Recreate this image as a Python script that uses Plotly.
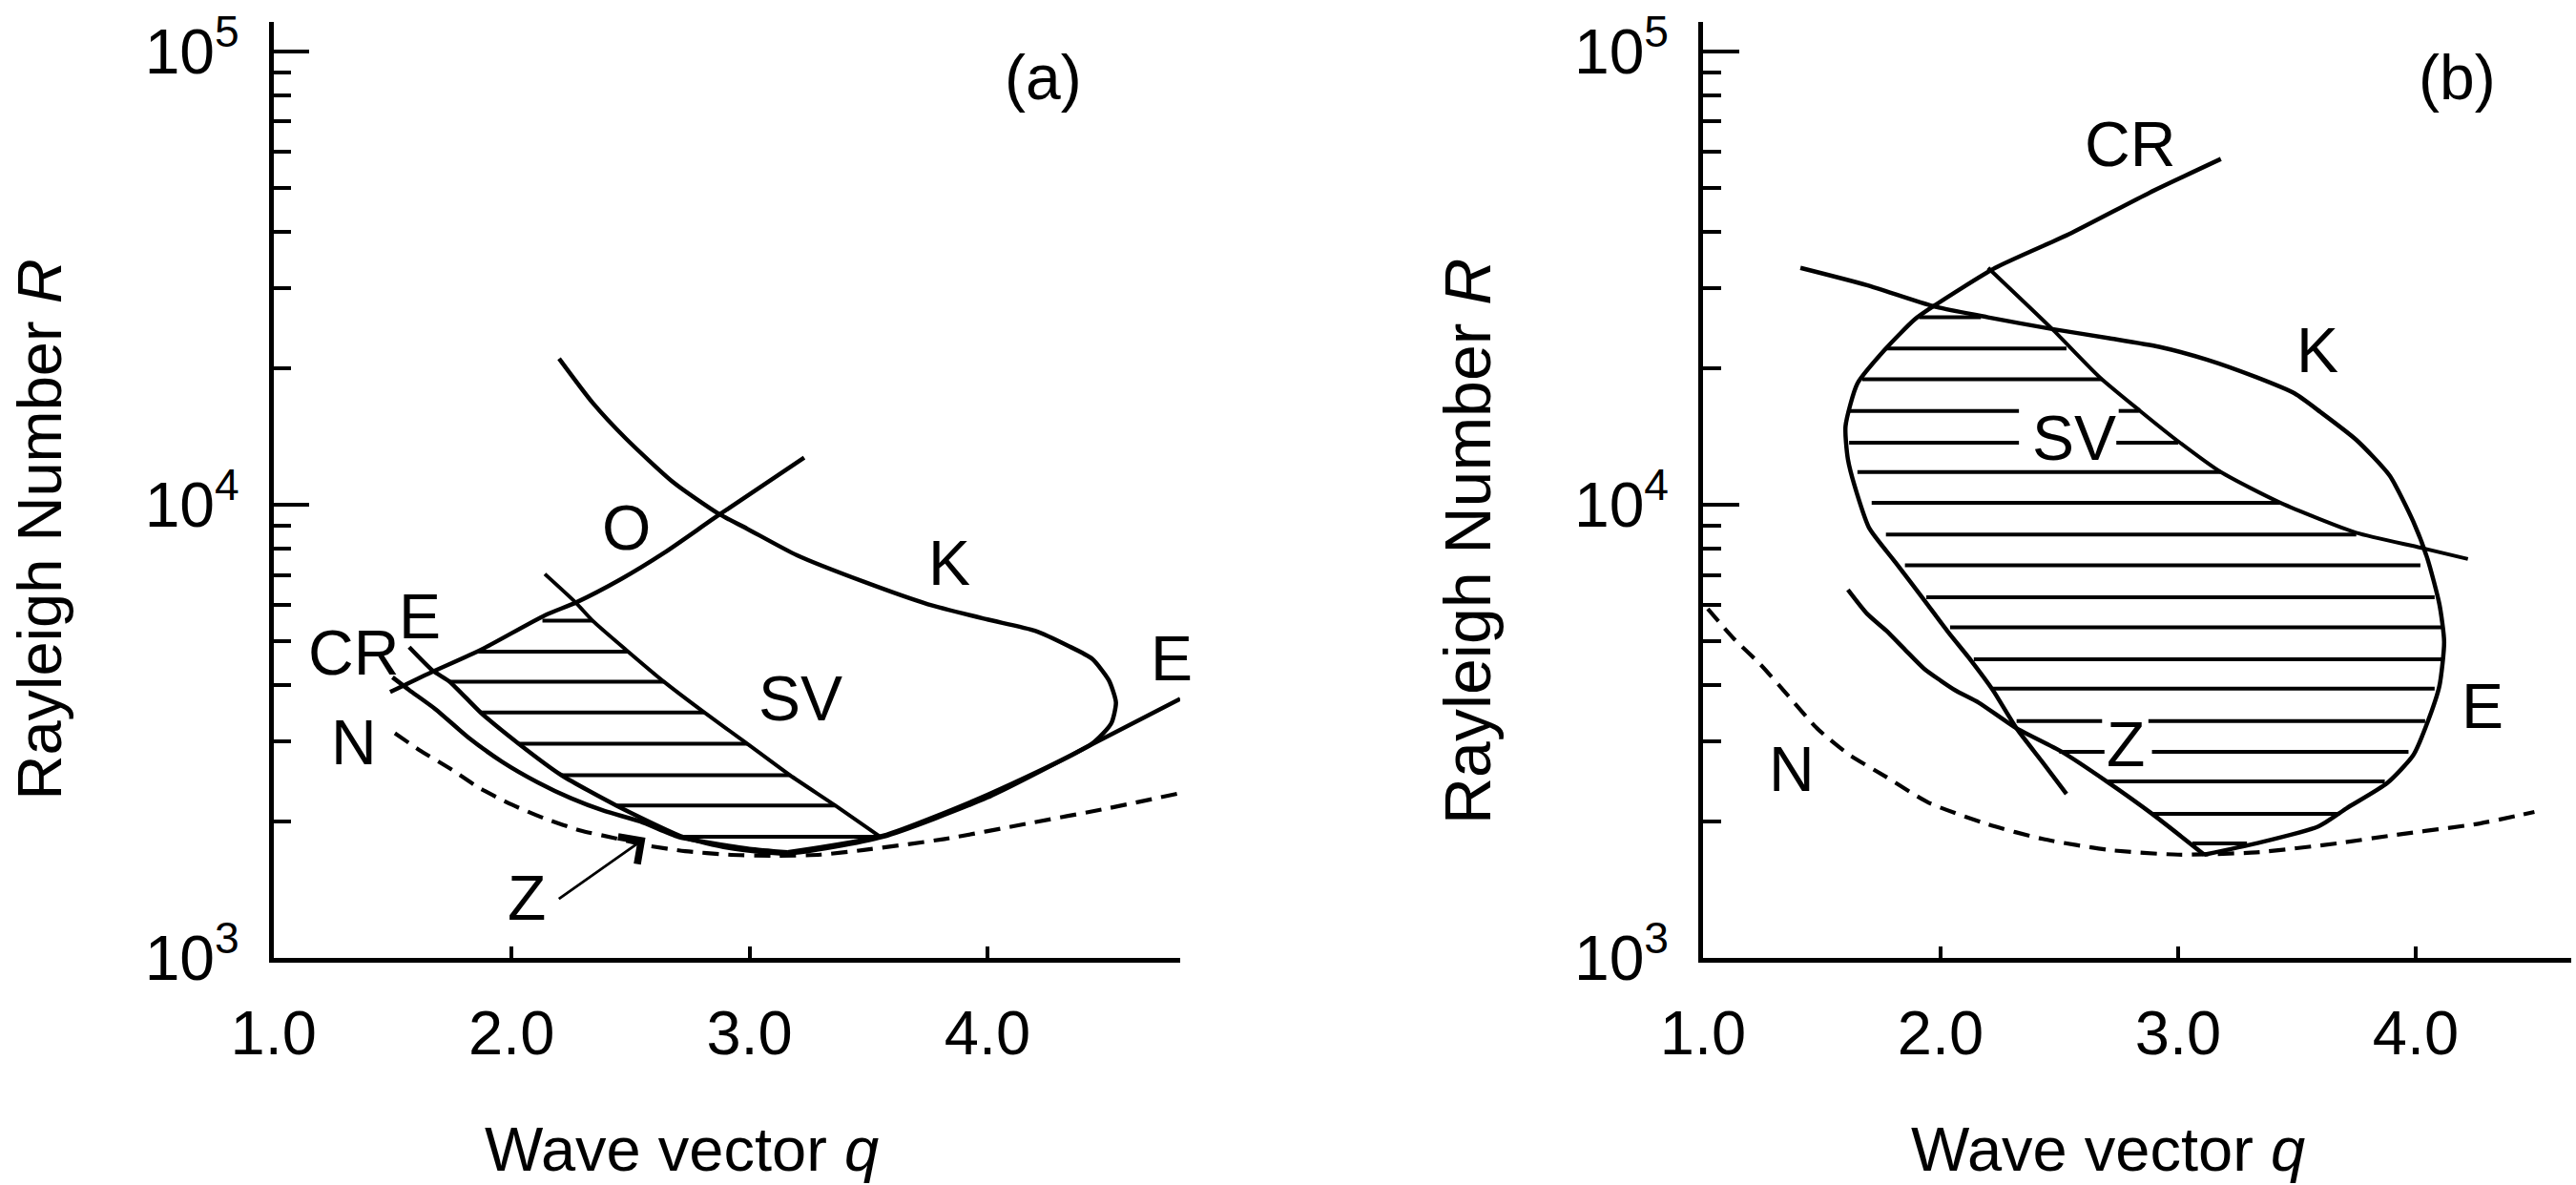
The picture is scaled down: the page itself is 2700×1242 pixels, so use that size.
import plotly.graph_objects as go

FONT = "Liberation Sans, Arial, Helvetica, sans-serif"

# ---------------- panel (a) data ----------------
a_N_q = [1.51, 1.62, 1.75, 1.86, 2.00, 2.14, 2.29, 2.43, 2.57, 2.73, 2.91, 3.10, 3.30, 3.48, 3.82, 4.17, 4.51, 4.81]
a_N_R = [3130, 2860, 2600, 2380, 2180, 2030, 1910, 1840, 1770, 1720, 1690, 1680, 1690, 1730, 1830, 1980, 2140, 2310]

a_CR_q = [1.50, 1.57, 1.68, 1.82, 1.96, 2.11, 2.25, 2.39, 2.54, 2.70, 2.82, 3.00, 3.16]
a_CR_R = [4160, 3900, 3540, 3060, 2710, 2440, 2250, 2110, 2000, 1850, 1800, 1740, 1710]

a_E_q = [1.57, 1.67, 1.74, 1.87, 2.03, 2.21, 2.44, 2.72, 2.91, 3.16, 3.56, 4.00, 4.44, 4.81]
a_E_R = [4850, 4300, 4070, 3480, 2970, 2530, 2170, 1850, 1750, 1700, 1850, 2260, 2960, 3730]

a_SV_q = [2.14, 2.27, 2.34, 2.49, 2.64, 2.81, 2.99, 3.17, 3.36, 3.55]
a_SV_R = [7030, 6080, 5550, 4740, 4070, 3480, 2970, 2530, 2170, 1850]

a_O_q = [1.49, 1.66, 1.87, 2.14, 2.27, 2.46, 2.64, 2.87, 3.23]
a_O_R = [3860, 4260, 4780, 5700, 6080, 6850, 7820, 9480, 12700]

a_K_q = [2.20, 2.34, 2.48, 2.68, 2.87, 2.99, 3.20, 3.48, 3.75, 4.00, 4.20, 4.34, 4.44,
         4.51, 4.54, 4.52, 4.44, 4.00, 3.56, 3.16]
a_K_R = [21000, 16800, 14000, 11200, 9550, 8850, 7730, 6760, 6030, 5580, 5270, 4880, 4570,
         4100, 3660, 3290, 2970, 2290, 1860, 1710]

a_hatch_R = [5550, 4740, 4070, 3480, 2970, 2530, 2170, 1850]
a_hatch_q0 = [2.13, 1.86, 1.74, 1.87, 2.03, 2.21, 2.44, 2.72]
a_hatch_q1 = [2.34, 2.49, 2.64, 2.81, 2.99, 3.17, 3.36, 3.55]

# ---------------- panel (b) data ----------------
b_N_q = [1.02, 1.13, 1.24, 1.36, 1.48, 1.61, 1.77, 1.95, 2.20, 2.43, 2.71, 3.00, 3.33, 3.67, 3.92, 4.27, 4.50]
b_N_R = [5890, 5060, 4450, 3780, 3210, 2820, 2510, 2200, 1970, 1830, 1730, 1690, 1710, 1790, 1870, 1980, 2100]

b_K_q = [1.41, 1.69, 1.97, 2.20, 2.47, 2.71, 2.92, 3.12, 3.33, 3.49, 3.60, 3.75, 3.89, 3.99,
         4.05, 4.10, 4.12, 4.10, 4.05, 3.99, 3.88, 3.71, 3.59, 3.33, 3.11]
b_K_R = [33300, 30500, 27400, 25900, 24400, 23300, 22300, 20900, 19100, 17600, 16000, 13900, 11600, 9180,
         7590, 6030, 4980, 3980, 3310, 2800, 2430, 2140, 1950, 1790, 1690]

b_CR_q = [3.18, 2.88, 2.54, 2.23, 1.97, 1.89, 1.77, 1.65, 1.60, 1.61, 1.65, 1.70, 1.81, 1.93,
          2.03, 2.13, 2.22, 2.32, 2.43, 2.53]
b_CR_R = [57900, 48800, 39500, 33300, 27400, 25600, 22100, 18500, 14900, 12600, 10500, 8870, 7460, 6170,
          5250, 4520, 3900, 3210, 2700, 2300]

b_Z_q = [1.61, 1.69, 1.77, 1.85, 1.93, 2.06, 2.16, 2.32, 2.51, 2.70, 2.89, 3.11]
b_Z_R = [6490, 5750, 5280, 4790, 4350, 3900, 3660, 3210, 2850, 2450, 2080, 1690]

b_SV_q = [2.20, 2.47, 2.67, 2.84, 3.00, 3.18, 3.43, 3.75, 4.02, 4.22]
b_SV_R = [33300, 24400, 19100, 16100, 13800, 11800, 10100, 8670, 8040, 7590]

b_hatch_R = [25900, 22100, 18900, 16100, 16100, 13700, 13700, 11800, 10100, 8590, 7350, 6250,
             5360, 4560, 3930, 3330, 3330, 2850, 2850, 2450, 2080, 1790]
b_hatch_q0 = [1.91, 1.77, 1.67, 1.615, 2.75, 1.615, 2.74, 1.65, 1.71, 1.77, 1.85, 1.94,
              2.04, 2.14, 2.22, 2.32, 2.875, 2.50, 2.89, 2.70, 2.89, 3.06]
b_hatch_q1 = [2.17, 2.53, 2.68, 2.33, 2.835, 2.33, 3.00, 3.18, 3.43, 3.75, 4.02, 4.08,
              4.11, 4.11, 4.08, 2.68, 4.04, 2.69, 3.97, 3.87, 3.68, 3.29]

# ---------------- figure ----------------
W, H = 2700, 1242
fig = go.Figure()


def line(q, R, xa, ya, width=4.5, dash="solid", shape="spline"):
    fig.add_trace(go.Scatter(
        x=q, y=R, mode="lines", xaxis=xa, yaxis=ya,
        line=dict(color="black", width=width, dash=dash, shape=shape, smoothing=0.6),
        showlegend=False, hoverinfo="skip"))


def hatch(R, q0, q1, xa, ya):
    xs, ys = [], []
    for r, a, b in zip(R, q0, q1):
        xs += [a, b, None]
        ys += [r, r, None]
    fig.add_trace(go.Scatter(
        x=xs, y=ys, mode="lines", xaxis=xa, yaxis=ya,
        line=dict(color="black", width=4), showlegend=False, hoverinfo="skip"))


# panel a
hatch(a_hatch_R, a_hatch_q0, a_hatch_q1, "x", "y")
line(a_N_q, a_N_R, "x", "y", width=4.2, dash="17px,10px")
line(a_CR_q, a_CR_R, "x", "y")
line(a_E_q, a_E_R, "x", "y")
line(a_SV_q, a_SV_R, "x", "y", width=4)
line(a_O_q, a_O_R, "x", "y")
line(a_K_q, a_K_R, "x", "y")

# panel b
hatch(b_hatch_R, b_hatch_q0, b_hatch_q1, "x2", "y2")
line(b_N_q, b_N_R, "x2", "y2", width=4.2, dash="17px,10px")
line(b_K_q, b_K_R, "x2", "y2")
line(b_CR_q, b_CR_R, "x2", "y2")
line(b_Z_q, b_Z_R, "x2", "y2")
line(b_SV_q, b_SV_R, "x2", "y2", width=4)

# axes
minor_vals = [2000, 3000, 4000, 5000, 6000, 7000, 8000, 9000,
              20000, 30000, 40000, 50000, 60000, 70000, 80000, 90000]
tickfont = dict(family=FONT, size=65, color="black")


def xaxis_cfg(domain, rng, anchor):
    return dict(domain=domain, range=rng, anchor=anchor, automargin=False,
                showline=True, linewidth=4.5, linecolor="black",
                ticks="inside", ticklen=12, tickwidth=4, tickcolor="black",
                tickvals=[1, 2, 3, 4], ticktext=["1.0", "2.0", "3.0", "4.0"],
                tickfont=tickfont, showgrid=False, zeroline=False, ticklabelstandoff=18)


def yaxis_cfg(domain, anchor):
    return dict(domain=domain, type="log", range=[3, 5.065], anchor=anchor, automargin=False,
                showline=True, linewidth=4.5, linecolor="black",
                ticks="inside", ticklen=38, tickwidth=4, tickcolor="black",
                tickvals=[1000, 10000, 100000],
                ticktext=["10<sup>3</sup>", "10<sup>4</sup>", "10<sup>5</sup>"],
                tickfont=dict(family=FONT, size=66, color="black"),
                minor=dict(ticks="inside", ticklen=19, tickwidth=4, tickcolor="black",
                           tickvals=minor_vals, showgrid=False),
                showgrid=False, zeroline=False, ticklabelstandoff=18)


ydom = [1 - 1004 / H, 1 - 23 / H]
fig.update_layout(
    width=W, height=H, margin=dict(l=0, r=0, t=0, b=0, pad=0, autoexpand=False),
    paper_bgcolor="white", plot_bgcolor="white",
    xaxis=xaxis_cfg([286.7 / W, 1237 / W], [1, 4.81], "y"),
    yaxis=yaxis_cfg(ydom, "x"),
    xaxis2=xaxis_cfg([1785 / W, 2695 / W], [1, 4.655], "y2"),
    yaxis2=yaxis_cfg(ydom, "x2"),
)

lab = dict(family=FONT, size=66, color="black")
anns = []


def txt(t, x, y, xref, yref, **kw):
    d = dict(text=t, x=x, y=y, xref=xref, yref=yref, showarrow=False, font=lab,
             xanchor="center", yanchor="middle")
    d.update(kw)
    anns.append(d)


# panel a labels (x = q, y = log10 R)
txt("O", 2.481, 3.949, "x", "y")
txt("E", 1.613, 3.754, "x", "y")
txt("CR", 1.336, 3.674, "x", "y")
txt("N", 1.336, 3.476, "x", "y")
txt("SV", 3.215, 3.573, "x", "y")
txt("Z", 2.064, 3.133, "x", "y")
txt("K", 3.839, 3.872, "x", "y")
txt("E", 4.772, 3.661, "x", "y")
txt("(a)", 1093 / W, 1 - 81 / H, "paper", "paper")
anns.append(dict(x=2.563, y=3.265, ax=2.193, ay=3.128, xref="x", yref="y", axref="x", ayref="y",
                 text="", font=dict(size=1), showarrow=True, arrowhead=4, arrowsize=2.4,
                 arrowwidth=2.8, arrowcolor="black", standoff=0, startstandoff=0))

# panel b labels
txt("CR", 2.797, 4.796, "x2", "y2")
txt("K", 3.588, 4.341, "x2", "y2")
txt("SV", 2.562, 4.147, "x2", "y2")
txt("Z", 2.779, 3.472, "x2", "y2")
txt("E", 4.283, 3.555, "x2", "y2")
txt("N", 1.373, 3.417, "x2", "y2")
txt("(b)", 2575 / W, 1 - 81 / H, "paper", "paper")

# axis titles
tfont = dict(family=FONT, size=65, color="black")
txt("Wave vector <i>q</i>", 714 / W, 1 - 1204 / H, "paper", "paper", font=tfont)
txt("Wave vector <i>q</i>", 2209 / W, 1 - 1204 / H, "paper", "paper", font=tfont)
txt("Rayleigh Number <i>R</i>", 40.5 / W, 1 - 555 / H, "paper", "paper", textangle=-90, font=tfont)
txt("Rayleigh Number <i>R</i>", 1538 / W, 1 - 568 / H, "paper", "paper", textangle=-90,
    font=dict(family=FONT, size=68, color="black"))

fig.update_layout(annotations=anns)
fig.write_html("out.html", config={"displayModeBar": False},
               post_script="document.body.style.margin='0px';")
